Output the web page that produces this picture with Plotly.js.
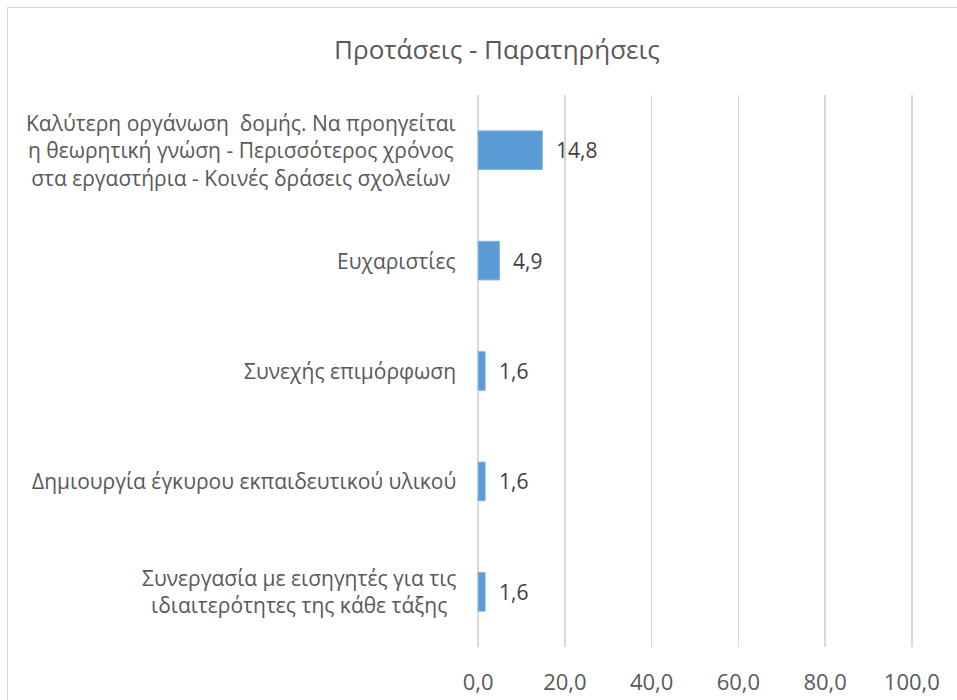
<!DOCTYPE html>
<html>
<head>
<meta charset="utf-8">
<script src="https://cdn.plot.ly/plotly-3.0.1.min.js"></script>
<style>
  html, body { margin: 0; padding: 0; background: #fff; overflow: hidden; }
  #frame { position: absolute; left: 7px; top: 7px; width: 1100px; height: 1100px; border: 1.5px solid #d9d9d9; box-sizing: border-box; }
  #chart { position: absolute; left: 0; top: 0; width: 957px; height: 700px; }
</style>
</head>
<body>
<div id="frame"></div>
<div id="chart"></div>
<script>
const categories = [
  "Καλύτερη οργάνωση  δομής. Να προηγείται<br>η θεωρητική γνώση - Περισσότερος χρόνος<br>στα εργαστήρια - Κοινές δράσεις σχολείων",
  "Ευχαριστίες",
  "Συνεχής επιμόρφωση",
  "Δημιουργία έγκυρου εκπαιδευτικού υλικού",
  "Συνεργασία με εισηγητές για τις<br>ιδιαιτερότητες της κάθε τάξης"
];
const values = [14.8, 4.9, 1.6, 1.6, 1.6];
const tickValues = [0, 20, 40, 60, 80, 100];
const tickLabels = ["0,0", "20,0", "40,0", "60,0", "80,0", "100,0"];
const chartTitle = "Προτάσεις - Παρατηρήσεις";

const fontFamily = "Open Sans, sans-serif";

const trace = {
  type: "bar",
  orientation: "h",
  x: values,
  y: categories,
  marker: { color: "#5b9bd5", line: { color: "#7fb1e0", width: 1 } },
  width: 0.35,
  hoverinfo: "x+y"
};

const valueLabels = values.map((v, i) => ({
  x: v, y: categories[i], xref: "x", yref: "y",
  text: v.toFixed(1).replace(".", ","),
  showarrow: false, xanchor: "left", yanchor: "middle", xshift: 12,
  font: { family: fontFamily, size: 21, color: "#404040" }
}));

const categoryLabels = categories.map((c) => ({
  x: 0, y: c, xref: "paper", yref: "y",
  text: c, align: "center",
  showarrow: false, xanchor: "right", yanchor: "middle", xshift: -18,
  font: { family: fontFamily, size: 21, color: "#595959" }
}));

const layout = {
  width: 957, height: 700,
  margin: { l: 476, r: 43, t: 95, b: 53, pad: 0 },
  paper_bgcolor: "rgba(0,0,0,0)",
  plot_bgcolor: "rgba(0,0,0,0)",
  separators: ",.",
  showlegend: false,
  title: {
    text: chartTitle,
    x: 497 / 957, xref: "container", xanchor: "center",
    y: 1 - 50 / 700, yanchor: "middle", yref: "container",
    font: { family: fontFamily, size: 26, color: "#595959" }
  },
  xaxis: {
    range: [-0.5, 100.5],
    tickvals: tickValues,
    ticktext: tickLabels,
    showgrid: true, gridcolor: "#d9d9d9", gridwidth: 1.5,
    zeroline: false, showline: false, ticks: "",
    ticklabelstandoff: 20,
    tickfont: { family: fontFamily, size: 22, color: "#595959" },
    fixedrange: true
  },
  yaxis: {
    autorange: "reversed",
    type: "category",
    showgrid: false, zeroline: false, showline: false, ticks: "",
    showticklabels: false,
    fixedrange: true
  },
  annotations: categoryLabels.concat(valueLabels)
};

Plotly.newPlot("chart", [trace], layout, { displayModeBar: false, staticPlot: true });
</script>
</body>
</html>
